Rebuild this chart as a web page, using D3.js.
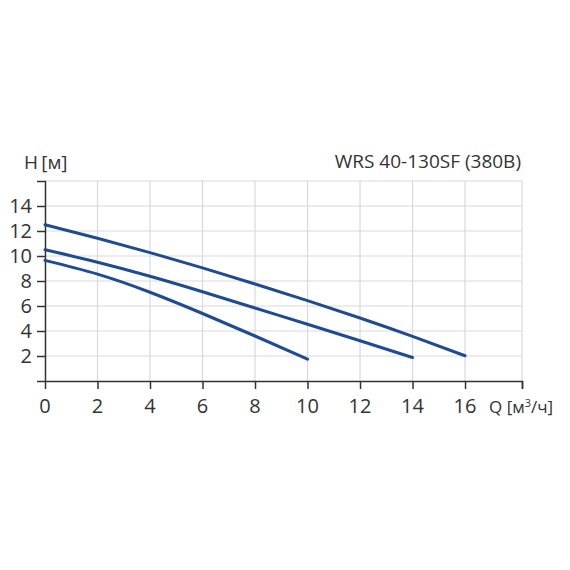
<!DOCTYPE html>
<html>
<head>
<meta charset="utf-8">
<script src="https://cdn.jsdelivr.net/npm/d3@7"></script>
<style>
  body { margin: 0; background: #fff; }
  text { font-family: "Open Sans", "DejaVu Sans", sans-serif; fill: #333; }
</style>
</head>
<body>
<svg id="chart" width="570" height="570"></svg>
<script>
// curves (Q in m3/h, H in m)
const q_top = [0, 2, 4, 6, 8, 10, 12, 14, 16];
const h_top = [12.5, 11.42, 10.27, 9.05, 7.76, 6.43, 5.04, 3.57, 2.02];
const q_mid = [0, 2, 4, 6, 8, 10, 12, 14];
const h_mid = [10.5, 9.5, 8.38, 7.14, 5.84, 4.54, 3.22, 1.88];
const q_low = [0, 2, 4, 6, 8, 10];
const h_low = [9.65, 8.55, 7.1, 5.4, 3.6, 1.75];

const x_ticks = [0, 2, 4, 6, 8, 10, 12, 14, 16];
const y_ticks = [2, 4, 6, 8, 10, 12, 14];
const title = "WRS 40-130SF (380В)";

const xMax = 18.17, yMax = 16;
const svg = d3.select("#chart");

const x = d3.scaleLinear().domain([0, xMax]).range([45, 522]);
const y = d3.scaleLinear().domain([0, yMax]).range([381, 181]);

// grid
const grid = svg.append("g").attr("class", "grid");
grid.selectAll("line.vx")
    .data(x_ticks.filter(d => d > 0).concat([xMax]))
    .enter().append("line")
    .attr("x1", d => x(d)).attr("x2", d => x(d))
    .attr("y1", y(0)).attr("y2", y(yMax))
    .attr("stroke", "#d9d9d9").attr("stroke-width", 1.2);
grid.selectAll("line.hy")
    .data(y_ticks.concat([yMax]))
    .enter().append("line")
    .attr("x1", x(0)).attr("x2", x(xMax))
    .attr("y1", d => y(d)).attr("y2", d => y(d))
    .attr("stroke", "#d9d9d9").attr("stroke-width", 1.2);

// axes
const xAxis = d3.axisBottom(x)
    .tickValues(x_ticks.filter(d => d > 0).concat([xMax]))
    .tickSize(8)
    .tickFormat("");
svg.append("g")
    .attr("transform", "translate(0," + y(0) + ")")
    .call(xAxis)
    .call(g => g.select(".domain").attr("stroke", "#333").attr("stroke-width", 1.5))
    .call(g => g.selectAll(".tick line").attr("stroke", "#333").attr("stroke-width", 1.5));

svg.append("g").selectAll("text")
    .data(x_ticks)
    .enter().append("text")
    .attr("x", d => x(d))
    .attr("y", 413)
    .attr("text-anchor", "middle")
    .attr("font-size", 20)
    .text(d => d);

const yAxis = d3.axisLeft(y)
    .tickValues(y_ticks)
    .tickSize(8)
    .tickPadding(5)
    .tickFormat(d => d);
svg.append("g")
    .attr("transform", "translate(" + x(0) + ",0)")
    .call(yAxis)
    .call(g => g.select(".domain").attr("stroke", "#333").attr("stroke-width", 1.5))
    .call(g => g.selectAll(".tick line").attr("stroke", "#333").attr("stroke-width", 1.5))
    .call(g => g.selectAll(".tick text").attr("font-size", 20).attr("fill", "#333")
                 .style("font-family", "'Open Sans', sans-serif"));

// curves
const line = d3.line()
    .x(d => x(d[0]))
    .y(d => y(d[1]))
    .curve(d3.curveNatural);

[[q_top, h_top], [q_mid, h_mid], [q_low, h_low]].forEach(function(c){
    svg.append("path")
        .datum(d3.zip(c[0], c[1]))
        .attr("d", line)
        .attr("fill", "none")
        .attr("stroke", "#1f4b91")
        .attr("stroke-width", 3)
        .attr("stroke-linecap", "round");
});

// labels
svg.append("text")
    .attr("x", 24).attr("y", 169)
    .attr("font-size", 19)
    .text("H\u2009[м]");

svg.append("text")
    .attr("x", 521).attr("y", 168)
    .attr("text-anchor", "end")
    .attr("font-size", 19)
    .text(title);

const ql = svg.append("text")
    .attr("x", 489).attr("y", 413)
    .attr("font-size", 17);
ql.append("tspan").text("Q [м");
ql.append("tspan").attr("font-size", 11).attr("dy", -6).text("3");
ql.append("tspan").attr("dy", 6).text("/ч]");
</script>
</body>
</html>
